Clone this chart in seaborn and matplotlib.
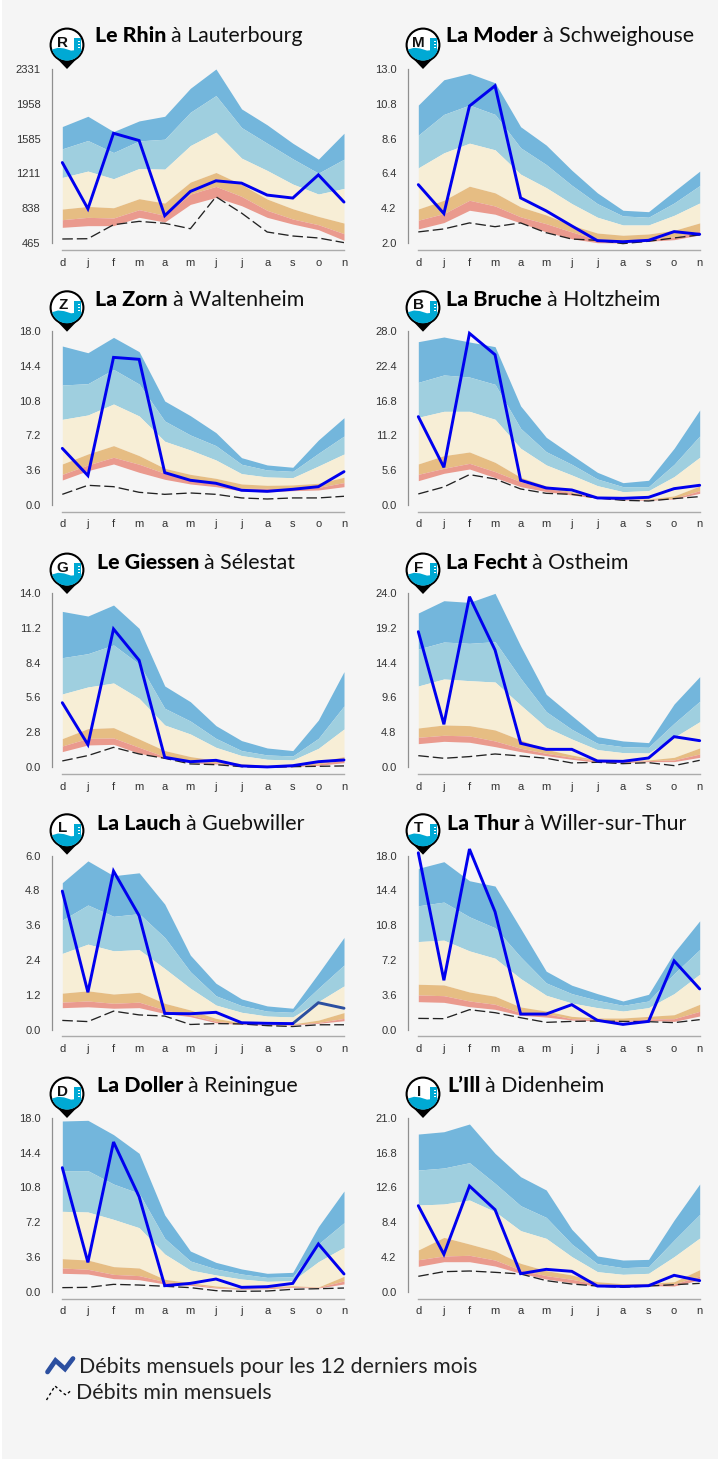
import matplotlib
matplotlib.use("Agg")
import matplotlib.pyplot as plt
from matplotlib.patches import Circle, Polygon, Rectangle
import numpy as np
import pandas as pd
import seaborn as sns

months = ['d', 'j', 'f', 'm', 'a', 'm', 'j', 'j', 'a', 's', 'o', 'n']

rhin_b1 = [1714,1824,1660,1774,1824,2124,2331,1903,1732,1535,1364,1642]
rhin_b2 = [1475,1564,1435,1560,1578,1867,2046,1703,1535,1368,1214,1364]
rhin_b3 = [1168,1236,1154,1264,1257,1510,1653,1375,1243,1097,990,1050]
rhin_b4 = [829,857,843,940,893,1118,1221,1093,936,832,750,679]
rhin_b5 = [715,740,733,822,761,990,1072,965,815,722,661,565]
rhin_b6 = [633,651,651,740,690,879,954,865,740,668,608,494]
rhin_flow = [1328,832,1642,1564,758,1018,1132,1107,979,947,1196,904]
rhin_min = [508,511,661,697,676,618,961,786,583,540,519,469]
rhin_ticks = ['465','838','1211','1585','1958','2331']

moder_b1 = [10.72,12.32,12.72,12.13,9.35,8.19,6.60,5.17,4.07,3.98,5.27,6.54]
moder_b2 = [8.82,10.13,10.72,10.13,8.02,6.96,5.65,4.49,3.71,3.63,4.53,5.63]
moder_b3 = [6.75,7.70,8.31,7.89,6.35,5.50,4.49,3.63,3.14,3.14,3.75,4.53]
moder_b4 = [4.15,4.70,5.59,5.17,4.28,3.77,3.12,2.63,2.49,2.57,2.80,3.27]
moder_b5 = [3.44,3.86,4.70,4.34,3.65,3.22,2.70,2.21,2.13,2.27,2.38,2.76]
moder_b6 = [2.89,3.29,4.07,3.82,3.27,2.70,2.27,2.02,2.00,2.11,2.21,2.51]
moder_flow = [5.69,3.86,10.66,11.94,4.85,4.03,3.08,2.15,2.08,2.17,2.72,2.55]
moder_min = [2.70,2.89,3.27,3.03,3.27,2.65,2.25,2.17,1.96,2.11,2.32,2.51]
moder_ticks = ['2.0','4.2','6.4','8.6','10.8','13.0']

zorn_b1 = [16.42,15.73,17.31,15.84,10.75,9.24,7.49,4.91,4.16,3.92,6.73,9.03]
zorn_b2 = [12.40,12.54,14.01,12.50,8.69,7.25,6.15,4.23,3.64,3.50,5.36,7.14]
zorn_b3 = [8.86,9.31,10.44,9.21,6.60,5.70,4.67,3.26,2.92,2.85,4.05,5.29]
zorn_b4 = [4.26,5.29,6.15,5.12,3.81,3.19,2.78,2.20,2.06,2.10,2.27,2.89]
zorn_b5 = [3.19,4.16,4.95,4.23,3.30,2.71,2.34,1.75,1.75,1.68,1.85,2.34]
zorn_b6 = [2.61,3.57,4.26,3.40,2.68,2.20,1.92,1.48,1.37,1.51,1.58,1.92]
zorn_flow = [5.87,3.06,15.25,15.05,3.37,2.58,2.27,1.55,1.44,1.65,1.92,3.47]
zorn_min = [1.13,2.06,1.92,1.34,1.13,1.27,1.13,0.76,0.65,0.76,0.76,0.93]
zorn_ticks = ['0.0','3.6','7.2','10.8','14.4','18.0']

bruche_b1 = [26.24,26.99,26.19,25.44,15.93,10.90,8.07,5.29,3.63,4.01,9.14,15.28]
bruche_b2 = [19.72,20.90,20.57,19.40,12.34,8.60,6.57,4.22,2.99,2.99,6.57,11.12]
bruche_b3 = [14.11,15.07,15.07,13.79,9.14,6.47,4.86,3.15,2.19,2.35,4.60,7.70]
bruche_b4 = [6.63,7.96,8.55,6.89,4.49,3.10,2.19,1.39,1.02,1.02,1.50,3.10]
bruche_b5 = [4.97,5.93,6.73,5.40,3.79,2.73,2.03,1.28,1.02,0.91,1.12,2.35]
bruche_b6 = [3.95,5.13,5.82,4.44,2.99,2.19,1.66,1.12,0.86,0.80,1.02,1.92]
bruche_flow = [14.22,6.09,27.58,24.15,4.01,2.78,2.46,1.18,1.12,1.28,2.67,3.21]
bruche_min = [1.82,2.94,4.92,4.22,2.62,1.92,1.76,1.18,0.80,0.69,1.07,1.39]
bruche_ticks = ['0.0','5.6','11.2','16.8','22.4','28.0']

giessen_b1 = [12.50,12.13,13.01,11.14,6.52,5.26,3.34,2.14,1.55,1.34,3.79,7.67]
giessen_b2 = [8.79,9.11,9.81,8.28,4.73,3.71,2.32,1.34,0.99,0.91,2.32,4.92]
giessen_b3 = [5.88,6.44,6.76,5.53,3.39,2.67,1.60,0.94,0.64,0.59,1.52,3.07]
giessen_b4 = [2.30,3.10,3.18,2.27,1.34,0.86,0.56,0.29,0.16,0.13,0.45,0.86]
giessen_b5 = [1.71,2.32,2.35,1.60,0.86,0.48,0.37,0.16,0.08,0.08,0.27,0.59]
giessen_b6 = [1.26,1.79,1.84,1.12,0.75,0.37,0.27,0.11,0.03,0.05,0.16,0.37]
giessen_flow = [5.18,1.82,11.09,8.58,0.80,0.45,0.56,0.11,0.03,0.13,0.45,0.59]
giessen_min = [0.51,0.94,1.60,1.07,0.72,0.27,0.21,0.05,0.00,0.05,0.08,0.11]
giessen_ticks = ['0.0','2.8','5.6','8.4','11.2','14.0']

fecht_b1 = [21.21,22.90,22.67,23.91,16.67,10.03,7.10,4.21,3.62,3.39,8.70,12.46]
fecht_b2 = [16.26,17.22,17.04,17.27,12.23,7.65,5.22,3.30,2.84,2.75,6.05,9.07]
fecht_b3 = [11.18,12.14,11.91,11.72,8.56,5.50,3.89,2.43,2.02,1.97,4.12,6.27]
fecht_b4 = [5.40,5.82,5.73,5.13,3.76,2.47,1.69,1.01,0.92,1.01,1.37,2.66]
fecht_b5 = [4.12,4.40,4.31,3.62,2.61,1.92,1.37,0.87,0.78,0.92,1.01,1.83]
fecht_b6 = [3.25,3.57,3.44,2.84,2.15,1.60,1.10,0.69,0.64,0.78,0.78,1.37]
fecht_flow = [18.64,5.91,23.45,16.12,3.30,2.47,2.47,0.87,0.82,1.28,4.21,3.66]
fecht_min = [1.60,1.24,1.47,1.83,1.56,1.24,0.60,0.69,0.50,0.64,0.23,0.96]
fecht_ticks = ['0.0','4.8','9.6','14.4','19.2','24.0']

lauch_b1 = [5.07,5.82,5.31,5.41,4.33,2.57,1.60,1.06,0.82,0.74,1.94,3.18]
lauch_b2 = [3.78,4.30,3.91,4.00,3.18,2.00,1.17,0.83,0.64,0.60,1.43,2.23]
lauch_b3 = [2.63,2.95,2.72,2.76,2.11,1.43,0.85,0.60,0.47,0.44,0.97,1.51]
lauch_b4 = [1.26,1.34,1.23,1.29,0.91,0.68,0.39,0.24,0.20,0.20,0.33,0.59]
lauch_b5 = [0.95,0.99,0.91,0.95,0.68,0.51,0.29,0.20,0.17,0.18,0.25,0.39]
lauch_b6 = [0.76,0.79,0.74,0.76,0.56,0.45,0.24,0.18,0.16,0.16,0.22,0.31]
lauch_flow = [4.78,1.29,5.47,3.93,0.56,0.55,0.60,0.24,0.22,0.21,0.93,0.74]
lauch_min = [0.32,0.28,0.64,0.51,0.47,0.18,0.21,0.20,0.14,0.11,0.17,0.17]
lauch_ticks = ['0.0','1.2','2.4','3.6','4.8','6.0']

thur_b1 = [16.69,17.38,15.41,14.86,10.47,6.05,4.60,3.73,2.97,3.66,7.98,11.26]
thur_b2 = [12.82,13.20,11.68,10.54,7.53,4.84,3.73,3.04,2.52,2.97,5.80,8.29]
thur_b3 = [9.12,9.26,8.15,7.39,5.29,3.56,2.76,2.28,1.93,2.28,3.73,5.74]
thur_b4 = [4.70,4.63,3.90,3.46,2.35,1.93,1.38,1.21,1.21,1.38,1.55,2.63]
thur_b5 = [3.59,3.52,2.97,2.63,1.76,1.66,1.14,1.04,0.97,1.11,1.14,1.90]
thur_b6 = [2.90,2.83,2.38,2.11,1.49,1.31,1.00,0.90,0.83,0.97,0.86,1.42]
thur_flow = [18.30,5.11,18.69,12.20,1.62,1.62,2.59,0.97,0.55,0.86,7.12,4.22]
thur_min = [1.17,1.14,2.07,1.76,1.24,0.76,0.86,0.90,0.86,0.83,0.73,1.04]
thur_ticks = ['0.0','3.6','7.2','10.8','14.4','18.0']

doller_b1 = [17.66,17.73,16.25,14.32,7.95,4.23,3.06,2.38,1.93,2.03,6.75,10.43]
doller_b2 = [12.53,12.53,11.15,10.19,5.54,3.20,2.38,1.86,1.51,1.58,4.96,7.16]
doller_b3 = [8.33,8.26,7.50,6.64,3.92,2.27,1.76,1.34,1.10,1.17,3.13,4.61]
doller_b4 = [3.44,3.30,2.62,2.48,1.31,0.96,0.62,0.41,0.55,0.65,0.52,1.62]
doller_b5 = [2.48,2.34,1.82,1.69,1.07,0.83,0.48,0.34,0.45,0.55,0.48,1.14]
doller_b6 = [1.93,1.86,1.38,1.27,0.83,0.69,0.41,0.28,0.34,0.48,0.41,0.83]
doller_flow = [12.84,3.06,15.49,9.84,0.65,0.89,1.34,0.48,0.55,0.89,4.96,1.86]
doller_min = [0.45,0.48,0.79,0.72,0.59,0.45,0.14,0.07,0.10,0.28,0.34,0.41]
doller_ticks = ['0.0','3.6','7.2','10.8','14.4','18.0']

ill_b1 = [19.03,19.31,20.24,16.70,13.89,12.29,7.55,4.34,3.85,3.93,8.67,13.01]
ill_b2 = [14.69,14.94,15.58,13.09,10.40,8.99,5.78,3.41,2.93,3.05,6.26,9.35]
ill_b3 = [10.48,10.60,11.08,9.68,7.39,6.46,4.26,2.45,2.13,2.25,4.26,6.50]
ill_b4 = [5.06,6.58,5.78,4.94,3.45,2.57,2.05,1.24,1.00,1.04,1.24,2.69]
ill_b5 = [3.89,4.34,4.42,3.85,2.65,1.97,1.53,0.96,0.88,0.96,0.96,1.93]
ill_b6 = [3.09,3.65,3.65,3.13,2.25,1.57,1.12,0.72,0.72,0.76,0.72,1.45]
ill_flow = [10.40,4.54,12.77,9.92,2.21,2.73,2.49,0.72,0.68,0.76,2.01,1.37]
ill_min = [1.89,2.45,2.53,2.37,2.17,1.37,0.96,0.72,0.56,0.72,0.88,1.04]
ill_ticks = ['0.0','4.2','8.4','12.6','16.8','21.0']

rivers = [
    ('Le Rhin', 'à Lauterbourg', 'R', rhin_ticks, [rhin_b1, rhin_b2, rhin_b3, rhin_b4, rhin_b5, rhin_b6], rhin_flow, rhin_min),
    ('La Moder', 'à Schweighouse', 'M', moder_ticks, [moder_b1, moder_b2, moder_b3, moder_b4, moder_b5, moder_b6], moder_flow, moder_min),
    ('La Zorn', 'à Waltenheim', 'Z', zorn_ticks, [zorn_b1, zorn_b2, zorn_b3, zorn_b4, zorn_b5, zorn_b6], zorn_flow, zorn_min),
    ('La Bruche', 'à Holtzheim', 'B', bruche_ticks, [bruche_b1, bruche_b2, bruche_b3, bruche_b4, bruche_b5, bruche_b6], bruche_flow, bruche_min),
    ('Le Giessen', 'à Sélestat', 'G', giessen_ticks, [giessen_b1, giessen_b2, giessen_b3, giessen_b4, giessen_b5, giessen_b6], giessen_flow, giessen_min),
    ('La Fecht', 'à Ostheim', 'F', fecht_ticks, [fecht_b1, fecht_b2, fecht_b3, fecht_b4, fecht_b5, fecht_b6], fecht_flow, fecht_min),
    ('La Lauch', 'à Guebwiller', 'L', lauch_ticks, [lauch_b1, lauch_b2, lauch_b3, lauch_b4, lauch_b5, lauch_b6], lauch_flow, lauch_min),
    ('La Thur', 'à Willer-sur-Thur', 'T', thur_ticks, [thur_b1, thur_b2, thur_b3, thur_b4, thur_b5, thur_b6], thur_flow, thur_min),
    ('La Doller', 'à Reiningue', 'D', doller_ticks, [doller_b1, doller_b2, doller_b3, doller_b4, doller_b5, doller_b6], doller_flow, doller_min),
    ("L’Ill", 'à Didenheim', 'I', ill_ticks, [ill_b1, ill_b2, ill_b3, ill_b4, ill_b5, ill_b6], ill_flow, ill_min),
]

# Layout in pixels
W, H = 718, 1461
col_spine = [51.7, 407.7]
col_first = [62.3, 418.3]
col_last = [344.0, 699.7]
row_top = [69.0, 330.7, 592.7, 855.7, 1117.7]
row_bot = [243.0, 505.3, 767.3, 1029.7, 1292.0]
row_axis = [250.0, 511.7, 774.0, 1036.0, 1298.7]
pin_cy = [45.0, 307.7, 570.0, 830.7, 1094.0]
title_base = [42.0, 306.5, 569.0, 830.0, 1092.0]
title_x = [[95, 446], [95, 446], [97, 446], [97, 447], [97, 447]]

band_colors = ['#73b6dc', '#9fcfdf', '#f7eed6', '#e6bd83', '#ea9a8e']
BG = '#f5f5f5'
FLOW = '#0000ee'
NAVY = '#2c4fa0'
TEAL = '#00a9d4'

sns.set_theme(style='white', rc={'axes.facecolor': 'none', 'figure.facecolor': 'white'})
plt.rcParams['font.family'] = ['Liberation Sans', 'DejaVu Sans']

fig = plt.figure(figsize=(W / 100, H / 100), dpi=100)

# Page background and overlay in pixel coordinates
under = fig.add_axes([0, 0, 1, 1], zorder=0)
under.set_xlim(0, W); under.set_ylim(H, 0); under.axis('off')
under.add_patch(Rectangle((2, 0), W - 2, H - 2, fc=BG, ec='none'))

over = fig.add_axes([0, 0, 1, 1], zorder=10)
over.set_xlim(0, W); over.set_ylim(H, 0); over.axis('off')
over.patch.set_alpha(0)

renderer = fig.canvas.get_renderer()


def draw_pin(cx, cy, letter):
    """Station marker: black drop, white disc, wave, gauge and river initial."""
    over.add_patch(Polygon([(cx - 12, cy + 11.5), (cx + 12, cy + 11.5), (cx, cy + 24)], fc='black', ec='none'))
    over.add_patch(Circle((cx, cy), 16.4, fc='white', ec='black', lw=1.5))
    rad = 15.6
    edge_y = 4.5
    ang = np.arcsin(edge_y / rad)
    theta = np.linspace(ang, np.pi - ang, 40)
    arc = [(cx + rad * np.cos(t), cy + rad * np.sin(t)) for t in theta]
    wave = [(cx - rad * np.cos(ang), cy + edge_y), (cx - 9, cy + 2.8), (cx - 3, cy + 3.4),
            (cx + 4, cy + 5.6), (cx + rad * np.cos(ang), cy + edge_y)]
    over.add_patch(Polygon(arc + wave, fc=TEAL, ec='none'))
    over.add_patch(Rectangle((cx + 7, cy - 7), 7, 13, fc=TEAL, ec='none'))
    for wy in (-4, -1, 2):
        over.add_patch(Rectangle((cx + 10.5, cy + wy), 2, 1.2, fc='white', ec='none'))
    over.text(cx - 4.3, cy - 2.4, letter, family='Liberation Sans', weight='bold',
              fontsize=11, color='#111111', ha='center', va='center')


for i, (bold, rest, letter, ticks, bands, flow, mins) in enumerate(rivers):
    r, c = i // 2, i % 2
    left, first, last = col_spine[c], col_first[c], col_last[c]
    top, bot, axis_y = row_top[r], row_bot[r], row_axis[r]
    ax = fig.add_axes([left / W, 1 - axis_y / H, (last - left) / W, (axis_y - top) / H], zorder=5)
    step = (last - first) / 11
    ax.set_xlim(-(first - left) / step, 11)
    vmin, vmax = float(ticks[0]), float(ticks[-1])
    ax.set_ylim(vmin - (axis_y - bot) / (bot - top) * (vmax - vmin), vmax)

    x = np.arange(12)
    for k, colr in enumerate(band_colors):
        ax.fill_between(x, bands[k], bands[k + 1], color=colr, lw=0)

    df = pd.DataFrame({'month': x, 'flow': flow, 'low': mins})
    sns.lineplot(data=df, x='month', y='low', ax=ax, color='#222222', lw=0.95,
                 errorbar=None, dashes=False, linestyle=(0, (8, 3)), legend=False)
    if letter == 'L':
        sns.lineplot(data=df[df.month >= 9], x='month', y='flow', ax=ax, color=NAVY, lw=2.1,
                     errorbar=None, legend=False, solid_joinstyle='miter', clip_on=False)
        line_df = df[df.month <= 9]
    else:
        line_df = df
    sns.lineplot(data=line_df, x='month', y='flow', ax=ax, color=FLOW, lw=2.1,
                 errorbar=None, legend=False, solid_joinstyle='miter', clip_on=False)

    ax.set_xlabel(''); ax.set_ylabel('')
    ax.set_xticks(x); ax.set_xticklabels(months)
    ax.set_yticks(np.linspace(vmin, vmax, 6)); ax.set_yticklabels(ticks)
    ax.tick_params(axis='x', length=0, pad=5.4, labelsize=8.0, labelcolor='#333333')
    ax.tick_params(axis='y', length=0, pad=8.0, labelsize=8.0, labelcolor='#333333')
    for side in ('top', 'right'):
        ax.spines[side].set_visible(False)
    ax.spines['left'].set_color('#8f8f8f'); ax.spines['left'].set_linewidth(0.9)
    ax.spines['bottom'].set_color('#ababab'); ax.spines['bottom'].set_linewidth(1.0)
    ax.spines['left'].set_bounds(vmin, vmax)
    ax.spines['bottom'].set_bounds(0, 11)

    # Title: bold river name then regular place name
    tx, ty = title_x[r][c], title_base[r]
    t1 = over.text(tx, ty, bold, family='Lato', weight='black', fontsize=15.4, color='black',
                   ha='left', va='baseline')
    end = t1.get_window_extent(renderer).x1
    over.text(end + 5, ty, rest, family='Lato', weight='regular', fontsize=15.4, color='#111111',
              ha='left', va='baseline')

    draw_pin(first + 4.7, pin_cy[r], letter)

# Legend
over.plot([47.5, 55.5, 65, 73], [1372, 1360.5, 1369, 1358.5], color=NAVY, lw=3.4, solid_joinstyle='miter')
over.plot([46.5, 55, 63, 66, 71.5], [1400, 1386, 1393, 1395, 1390], color='black', lw=1.0,
          linestyle=(0, (2, 2)))
over.text(79, 1373.3, 'Débits mensuels pour les 12 derniers mois', family='Lato', fontsize=15.4,
          color='#222222', ha='left', va='baseline')
over.text(76, 1399.3, 'Débits min mensuels', family='Lato', fontsize=15.4,
          color='#222222', ha='left', va='baseline')

fig.savefig('out.png', dpi=100)
